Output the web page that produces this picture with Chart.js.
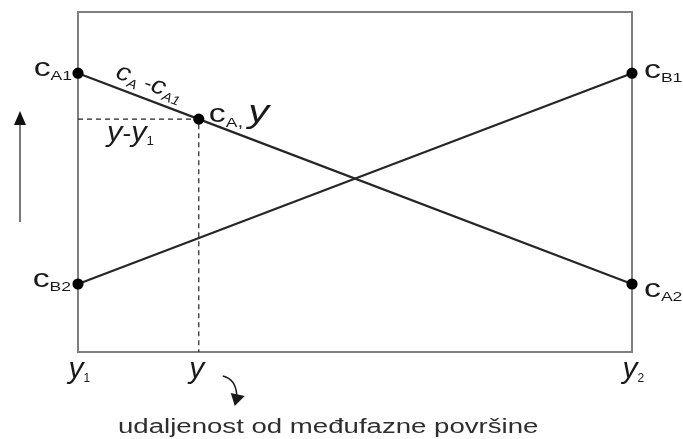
<!DOCTYPE html>
<html>
<head>
<meta charset="utf-8">
<script src="https://cdn.jsdelivr.net/npm/chart.js@4/dist/chart.umd.min.js"></script>
<style>
  html, body { margin: 0; padding: 0; background: #fff; }
  #wrap { width: 683px; height: 439px; }
</style>
</head>
<body>
<div id="wrap"><canvas id="diagram"></canvas></div>
<script>
// ─── Data ─────────────────────────────────────────────────
const positions = [0, 0.218, 1];              // y1, y, y2 (distance axis)
const positionSubs = ['1', '', '2'];
const cA = [0.82, 0.2];                       // c_A at y1, y2
const cB = [0.2, 0.82];                       // c_B at y1, y2
const cAatY = 0.685;                          // c_A at position y
const caption = 'udaljenost od međufazne površine';

const FONT = '"Liberation Sans", Arial, sans-serif';
const INK = '#1a1a1a';
const SX = 1.3; // the source drawing is stretched sideways

// draw a run of text pieces (main + subscripts) starting at x, baseline y
function drawRuns(ctx, x, y, runs, align, sx) {
  ctx.save();
  ctx.translate(x, y);
  ctx.scale(sx || 1, 1);
  let w = 0;
  runs.forEach(r => {
    ctx.font = `${r.italic ? 'italic ' : ''}${r.size}px ${FONT}`;
    r.w = ctx.measureText(r.t).width;
    w += r.w;
  });
  let cx = align === 'right' ? -w : align === 'center' ? -w / 2 : 0;
  ctx.textAlign = 'left';
  ctx.textBaseline = 'alphabetic';
  ctx.fillStyle = INK;
  runs.forEach(r => {
    ctx.font = `${r.italic ? 'italic ' : ''}${r.size}px ${FONT}`;
    ctx.fillText(r.t, cx, r.dy || 0);
    cx += r.w;
  });
  ctx.restore();
}

const cLabel = sub => [
  { t: 'c', size: 26 },
  { t: sub, size: 13.5, dy: 4 },
];

const diagramPlugin = {
  id: 'diagram',
  beforeDatasetsDraw(chart) {
    const { ctx, chartArea: a } = chart;
    ctx.save();
    ctx.strokeStyle = '#7f7f7f';
    ctx.lineWidth = 2;
    ctx.strokeRect(a.left, a.top, a.right - a.left, a.bottom - a.top);
    ctx.restore();
  },
  afterDatasetsDraw(chart) {
    const { ctx, chartArea: a, scales: { x, y } } = chart;
    const px = v => x.getPixelForValue(v);
    const py = v => y.getPixelForValue(v);

    // end labels
    drawRuns(ctx, px(positions[0]) - 6, py(cA[0]) + 3, cLabel('A1'), 'right', SX);
    drawRuns(ctx, px(positions[0]) - 7, py(cB[0]) + 3, cLabel('B2'), 'right', SX);
    drawRuns(ctx, px(positions[2]) + 12, py(cB[1]) + 5, cLabel('B1'), 'left', SX);
    drawRuns(ctx, px(positions[2]) + 12, py(cA[1]) + 13, cLabel('A2'), 'left', SX);

    // label at the inner point
    drawRuns(ctx, px(positions[1]) + 10, py(cAatY) + 3, [
      { t: 'c', size: 26 },
      { t: 'A', size: 13.5, dy: 5 },
      { t: ',', size: 16, dy: 5 },
      { t: ' ', size: 14 },
      { t: 'y', size: 32, italic: true },
    ], 'left', SX);

    // y - y1 under the dashed line
    drawRuns(ctx, px(positions[0]) + 29, py(cAatY) + 22, [
      { t: 'y', size: 28, italic: true },
      { t: '-', size: 24 },
      { t: 'y', size: 28, italic: true },
      { t: '1', size: 12, dy: 4 },
    ], 'left', 1.1);

    // cA - cA1 along the falling line
    const ang = Math.atan2(py(cA[1]) - py(cA[0]), px(positions[2]) - px(positions[0]));
    const t0 = 0.06;
    ctx.save();
    ctx.translate(px(t0), py(cA[0] + (cA[1] - cA[0]) * t0));
    ctx.rotate(ang);
    drawRuns(ctx, 0, -9, [
      { t: 'c', size: 25, italic: true },
      { t: 'A', size: 13, dy: 4, italic: true },
      { t: ' -', size: 20 },
      { t: 'c', size: 25, italic: true },
      { t: 'A1', size: 13, dy: 4, italic: true },
    ], 'left', 1.12);
    ctx.restore();

    // distance labels under the frame
    positions.forEach((p, i) => {
      const cx = px(p);
      ctx.save();
      ctx.font = `italic 30px ${FONT}`;
      const w = ctx.measureText('y').width;
      ctx.restore();
      drawRuns(ctx, cx - w / 2 - 2, a.bottom + 26, [
        { t: 'y', size: 30, italic: true },
        { t: positionSubs[i], size: 12, dy: 4 },
      ], 'left', 1);
    });

    // small curved arrow from y to the caption
    const ax = px(positions[1]);
    ctx.save();
    ctx.strokeStyle = INK;
    ctx.fillStyle = INK;
    ctx.lineWidth = 1.5;
    ctx.beginPath();
    ctx.moveTo(ax + 24, a.bottom + 24);
    ctx.quadraticCurveTo(ax + 37, a.bottom + 27, ax + 38, a.bottom + 43);
    ctx.stroke();
    ctx.beginPath();
    ctx.moveTo(ax + 32, a.bottom + 41);
    ctx.lineTo(ax + 46, a.bottom + 44);
    ctx.lineTo(ax + 36, a.bottom + 54);
    ctx.closePath();
    ctx.fill();
    ctx.restore();

    // caption
    ctx.save();
    ctx.translate(a.left + 40, a.bottom + 81);
    ctx.scale(1.38, 1);
    ctx.font = `20px ${FONT}`;
    ctx.fillStyle = '#2e2e2e';
    ctx.textAlign = 'left';
    ctx.fillText(caption, 0, 0);
    ctx.restore();

    // upward arrow on the left
    const lx = a.left - 58;
    ctx.save();
    ctx.strokeStyle = '#7a7a7a';
    ctx.lineWidth = 2;
    ctx.beginPath();
    ctx.moveTo(lx, a.top + 210);
    ctx.lineTo(lx, a.top + 108);
    ctx.stroke();
    ctx.fillStyle = '#111';
    ctx.beginPath();
    ctx.moveTo(lx, a.top + 99);
    ctx.lineTo(lx + 6, a.top + 113);
    ctx.lineTo(lx - 6, a.top + 113);
    ctx.closePath();
    ctx.fill();
    ctx.restore();
  },
};

new Chart(document.getElementById('diagram'), {
  type: 'line',
  data: {
    datasets: [
      {
        label: 'guide',
        data: [
          { x: positions[0], y: cAatY },
          { x: positions[1], y: cAatY },
          { x: positions[1], y: 0 },
        ],
        borderColor: '#222',
        borderWidth: 1.2,
        borderDash: [5, 4],
        pointRadius: 0,
        clip: false,
        order: 3,
      },
      {
        label: 'cA',
        data: [
          { x: positions[0], y: cA[0] },
          { x: positions[1], y: cAatY },
          { x: positions[2], y: cA[1] },
        ],
        borderColor: '#262626',
        borderWidth: 2.2,
        pointRadius: 4.5,
        pointBackgroundColor: '#000',
        pointBorderColor: '#000',
        clip: false,
        order: 1,
      },
      {
        label: 'cB',
        data: [
          { x: positions[0], y: cB[0] },
          { x: positions[2], y: cB[1] },
        ],
        borderColor: '#262626',
        borderWidth: 2.2,
        pointRadius: 4.5,
        pointBackgroundColor: '#000',
        pointBorderColor: '#000',
        clip: false,
        order: 2,
      },
    ],
  },
  options: {
    responsive: true,
    maintainAspectRatio: false,
    animation: false,
    layout: { padding: { left: 78, right: 51, top: 12, bottom: 87 } },
    plugins: { legend: { display: false }, tooltip: { enabled: false } },
    scales: {
      x: { type: 'linear', min: 0, max: 1, display: false },
      y: { type: 'linear', min: 0, max: 1, display: false },
    },
  },
  plugins: [diagramPlugin],
});
</script>
</body>
</html>
